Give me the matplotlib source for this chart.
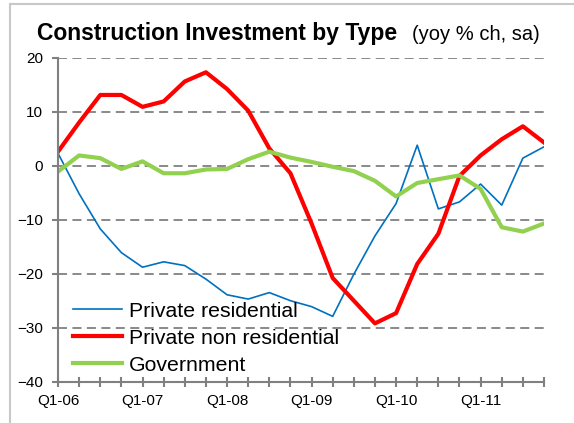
import matplotlib
matplotlib.use("Agg")
import matplotlib.pyplot as plt
from matplotlib.patches import Rectangle

plt.rcParams['font.family'] = ['Liberation Sans', 'DejaVu Sans']

# quarterly data, Q1-06 .. Q4-11
quarters = [f"Q{q}-{y:02d}" for y in range(6, 12) for q in range(1, 5)]
private_res = [2.3, -5.2, -11.7, -16.1, -18.8, -17.8, -18.5, -21.0,
               -23.9, -24.7, -23.5, -25.0, -26.1, -27.9, -20.1, -13.0,
               -7.0, 3.8, -8.0, -6.7, -3.4, -7.3, 1.4, 3.5]
private_nonres = [2.6, 8.0, 13.1, 13.1, 10.9, 11.9, 15.6, 17.3,
                  14.2, 10.2, 3.2, -1.4, -10.7, -20.8, -25.0, -29.2,
                  -27.3, -18.2, -12.6, -1.9, 1.9, 4.9, 7.3, 4.3]
government = [-1.1, 1.9, 1.4, -0.6, 0.8, -1.4, -1.4, -0.7,
              -0.6, 1.2, 2.6, 1.5, 0.7, -0.2, -1.0, -2.8,
              -5.7, -3.2, -2.5, -1.8, -4.3, -11.4, -12.2, -10.7]
yticks = [20, 10, 0, -10, -20, -30, -40]

fig = plt.figure(figsize=(5.74, 4.23), dpi=100)
ax = fig.add_axes([58/574, 1 - 381.7/423, (544 - 58)/574, (381.7 - 57.7)/423])

# outer light grey frame
fig.patches.append(Rectangle((10/574, -0.05), 1.0, 1 - 4/423 + 0.05,
                             transform=fig.transFigure, fill=False,
                             edgecolor='#c8c8c8', linewidth=1.5))

x = list(range(len(quarters)))
ax.plot(x, private_res, color='#0070c0', lw=1.2, label='Private residential')
ax.plot(x, private_nonres, color='#ff0000', lw=3, label='Private non residential')
ax.plot(x, government, color='#92d050', lw=3, label='Government')

for v in yticks[:-1]:
    ax.axhline(v, color='#808080', lw=1.3, ls=(0, (5, 3)), zorder=0)

ax.set_xlim(0, len(quarters) - 1)
ax.set_ylim(-40, 20)
ax.set_yticks(yticks)
ax.set_xticks(x)
ax.set_xticklabels([q if q.startswith('Q1') else '' for q in quarters])

for s in ['top', 'right']:
    ax.spines[s].set_visible(False)
for s in ['left', 'bottom']:
    ax.spines[s].set_color('#808080')
    ax.spines[s].set_linewidth(1.5)

ax.tick_params(axis='y', direction='out', length=4.3, width=1.5,
               color='#808080', pad=6.5, labelsize=11)
ax.tick_params(axis='x', direction='inout', length=7.2, width=1.5,
               color='#808080', pad=5.5, labelsize=11)

ax.legend(loc='lower left', bbox_to_anchor=(0.0, -0.025), frameon=False,
          fontsize=15.3, handlelength=2.3, handletextpad=0.32,
          labelspacing=0.38, borderaxespad=0.3)

fig.text(37/574, 1 - 40/423, 'Construction Investment by Type',
         fontsize=16.5, fontweight='bold', va='baseline', ha='left')
fig.text(412/574, 1 - 40/423, '(yoy % ch, sa)',
         fontsize=14.5, va='baseline', ha='left')

fig.savefig('out.png', dpi=100)
